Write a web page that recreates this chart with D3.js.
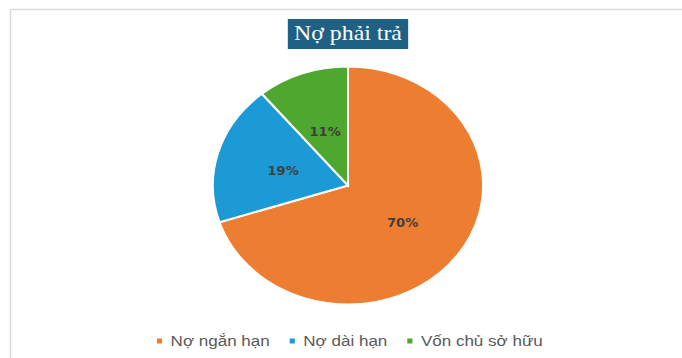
<!DOCTYPE html>
<html>
<head>
<meta charset="utf-8">
<script src="https://cdn.jsdelivr.net/npm/d3@7"></script>
<style>
  body { margin: 0; background: #fff; }
  svg { display: block; }
</style>
</head>
<body>
<div id="chart"></div>
<script>
// data
var categories = ["Nợ ngắn hạn", "Nợ dài hạn", "Vốn chủ sở hữu"];
var values = [70, 19, 11];
var colors = ["#ED7D31", "#1C9AD6", "#4EA72E"];
var title = "Nợ phải trả";

var width = 682, height = 358;
// the source picture is stretched horizontally
var sx = 1.135;

var svg = d3.select("#chart").append("svg")
    .attr("width", width)
    .attr("height", height);

// chart frame
svg.append("path")
    .attr("d", "M10.5," + (height + 2) + "V9.5H" + (width + 2))
    .attr("fill", "none")
    .attr("stroke", "#dcdcdc")
    .attr("stroke-width", 1.5);

var g = svg.append("g").attr("transform", "scale(" + sx + ",1)");

var cx = 306.6, cy = 185.5, r = 119;

// title
var titleText = g.append("text")
    .attr("x", cx)
    .attr("y", 40)
    .attr("text-anchor", "middle")
    .style("font-family", "'Liberation Serif', 'Times New Roman', serif")
    .style("font-size", "21px")
    .attr("fill", "#fff")
    .text(title);
var tw = titleText.node().getComputedTextLength();
g.insert("rect", "text")
    .attr("x", cx - tw / 2 - 5.5)
    .attr("y", 19)
    .attr("width", tw + 11)
    .attr("height", 30)
    .attr("fill", "#1F6085");

// pie
var pie = d3.pie().sort(null).value(function(d) { return d; });
var arcs = pie(values);
var arc = d3.arc().innerRadius(0).outerRadius(r);

var pieG = g.append("g").attr("transform", "translate(" + cx + "," + cy + ")");

pieG.selectAll(".slice")
    .data(arcs)
    .enter().append("path")
    .attr("class", "slice")
    .attr("d", arc)
    .attr("fill", function(d, i) { return colors[i]; })
    .attr("stroke", "#fff")
    .attr("stroke-width", 2)
    .attr("vector-effect", "non-scaling-stroke");

var total = d3.sum(values);
pieG.selectAll(".lbl")
    .data(arcs)
    .enter().append("text")
    .attr("class", "lbl")
    .attr("transform", function(d) {
        var c = arc.centroid(d);
        return "translate(" + c[0] + "," + (c[1] + 2) + ")";
    })
    .attr("text-anchor", "middle")
    .attr("dy", "0.35em")
    .style("font-family", "'DejaVu Sans', Verdana, sans-serif")
    .style("font-size", "11.5px")
    .style("font-weight", "bold")
    .attr("fill", "#3f3f3f")
    .text(function(d) { return Math.round(d.value / total * 100) + "%"; });

// legend
var legend = g.append("g");
var lx = 0;
categories.forEach(function(c, i) {
    var item = legend.append("g").attr("transform", "translate(" + lx + ",0)");
    item.append("rect")
        .attr("x", 0).attr("y", 338.5)
        .attr("width", 4.5).attr("height", 5)
        .attr("fill", colors[i]);
    var t = item.append("text")
        .attr("x", 12)
        .attr("y", 346)
        .style("font-family", "'Liberation Sans', Arial, sans-serif")
        .style("font-size", "15px")
        .attr("fill", "#595959")
        .text(c);
    lx += 12 + t.node().getComputedTextLength() + 17.6;
});
legend.attr("transform", "translate(" + (157 / sx) + ",0)");
</script>
</body>
</html>
